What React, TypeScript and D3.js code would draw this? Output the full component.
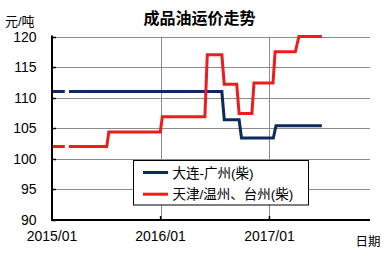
import React from "react";
import * as d3 from "d3";

const title = "成品油运价走势";
const yUnit = "元/吨";
const xUnit = "日期";
const yTicks = [90, 95, 100, 105, 110, 115, 120];
const xTickDates = ["2015-01-01", "2016-01-01", "2017-01-01"];
const xTickLabels = ["2015/01", "2016/01", "2017/01"];
const seriesNames = ["大连-广州(柴)", "天津/温州、台州(柴)"];
const seriesColors = ["#0c2a5e", "#ee1c1c"];

// change points (null value = missing week, breaks the line)
const dalianDates = [
  "2015-01-01", "2015-02-13", "2015-02-20", "2015-02-27", "2016-07-25", "2016-08-02",
  "2016-09-21", "2016-09-29", "2017-01-14", "2017-01-23", "2017-06-26",
];
const dalianValues = [111, 111, null, 111, 111, 106.4, 106.4, 103.4, 103.4, 105.4, 105.4];

const tianjinDates = [
  "2015-01-01", "2015-02-13", "2015-02-20", "2015-02-27", "2015-07-04", "2015-07-11",
  "2015-12-31", "2016-01-07", "2016-05-29", "2016-06-06", "2016-07-25", "2016-08-02",
  "2016-09-13", "2016-09-21", "2016-11-03", "2016-11-10", "2017-01-13", "2017-01-20",
  "2017-03-29", "2017-04-10", "2017-06-26",
];
const tianjinValues = [
  102, 102, null, 102, 102, 104.4, 104.4, 106.9, 106.9, 117, 117, 112.2,
  112.2, 107.4, 107.4, 112.4, 112.4, 117.5, 117.5, 120, 120,
];

const W = 387;
const H = 255;
const FONT = '"Liberation Sans", Arial, "Noto Sans CJK SC", sans-serif';

export default function App() {
  const parse = d3.timeParse("%Y-%m-%d");
  const x = d3
    .scaleTime()
    .domain([parse("2015-01-01")!, parse("2017-12-05")!])
    .range([52, 370]);
  const y = d3.scaleLinear().domain([90, 120]).range([220, 36.5]);

  const mk = (ds: string[], vs: (number | null)[]) =>
    ds.map((d, i) => ({ date: parse(d)!, v: vs[i] }));
  const series = [mk(dalianDates, dalianValues), mk(tianjinDates, tianjinValues)];

  const line = d3
    .line<{ date: Date; v: number | null }>()
    .defined((d) => d.v !== null)
    .x((d) => x(d.date))
    .y((d) => y(d.v as number));

  const crisp = (v: number) => Math.round(v) + 0.5;
  const left = 52;
  const right = 370;
  const top = y(120);
  const bottom = y(90);

  return (
    <svg
      width={W}
      height={H}
      style={{ position: "absolute", left: 0, top: 0, background: "#fff" }}
      fontFamily={FONT}
    >
      <rect width={W} height={H} fill="#fff" />
      {/* horizontal gridlines */}
      {yTicks
        .filter((t) => t !== 90)
        .map((t) => (
          <line
            key={"g" + t}
            x1={left}
            x2={right}
            y1={crisp(y(t))}
            y2={crisp(y(t))}
            stroke="#8c8c8c"
            strokeWidth={1}
          />
        ))}
      {/* vertical gridlines */}
      {xTickDates.slice(1).map((d) => (
        <line
          key={"v" + d}
          x1={crisp(x(parse(d)!))}
          x2={crisp(x(parse(d)!))}
          y1={top}
          y2={bottom}
          stroke="#8c8c8c"
          strokeWidth={1}
        />
      ))}
      {/* series */}
      {series.map((s, i) => (
        <path
          key={"s" + i}
          d={line(s) || ""}
          fill="none"
          stroke={seriesColors[i]}
          strokeWidth={3}
          strokeLinejoin="miter"
        />
      ))}
      {/* axes */}
      <line x1={left} x2={left} y1={top - 1} y2={bottom + 1} stroke="#000" strokeWidth={2} />
      <line x1={left - 1} x2={right} y1={bottom} y2={bottom} stroke="#000" strokeWidth={2} />
      {yTicks.map((t) => (
        <line key={"yt" + t} x1={left} x2={left + 4} y1={crisp(y(t))} y2={crisp(y(t))} stroke="#000" strokeWidth={1.5} />
      ))}
      {xTickDates.map((d) => (
        <line key={"xt" + d} x1={x(parse(d)!)} x2={x(parse(d)!)} y1={bottom} y2={bottom - 4} stroke="#000" strokeWidth={1.5} />
      ))}
      {/* y tick labels */}
      {yTicks.map((t) => (
        <text key={"yl" + t} x={36.5} y={y(t) + 5} fontSize={14} textAnchor="end" fill="#000">
          {t}
        </text>
      ))}
      {/* x tick labels */}
      {xTickDates.map((d, i) => (
        <text key={"xl" + d} x={x(parse(d)!)} y={241} fontSize={14} textAnchor="middle" fill="#000">
          {xTickLabels[i]}
        </text>
      ))}
      {/* units */}
      <text x={5} y={26} fontSize={13} fill="#000">
        {yUnit}
      </text>
      <text x={355.5} y={246} fontSize={12.5} fill="#000">
        {xUnit}
      </text>
      {/* title */}
      <text x={199.5} y={24} fontSize={16} fontWeight="bold" textAnchor="middle" fill="#000">
        {title}
      </text>
      {/* legend */}
      <rect x={133.5} y={160.5} width={175} height={44.5} fill="#fff" stroke="#000" strokeWidth={1} />
      {seriesNames.map((n, i) => {
        const ly = 172.5 + i * 21.7;
        return (
          <g key={"lg" + i}>
            <line x1={143} x2={168} y1={ly} y2={ly} stroke={seriesColors[i]} strokeWidth={3} />
            <text x={172.5} y={ly + 5} fontSize={13.5} fill="#000">
              {n}
            </text>
          </g>
        );
      })}
    </svg>
  );
}
